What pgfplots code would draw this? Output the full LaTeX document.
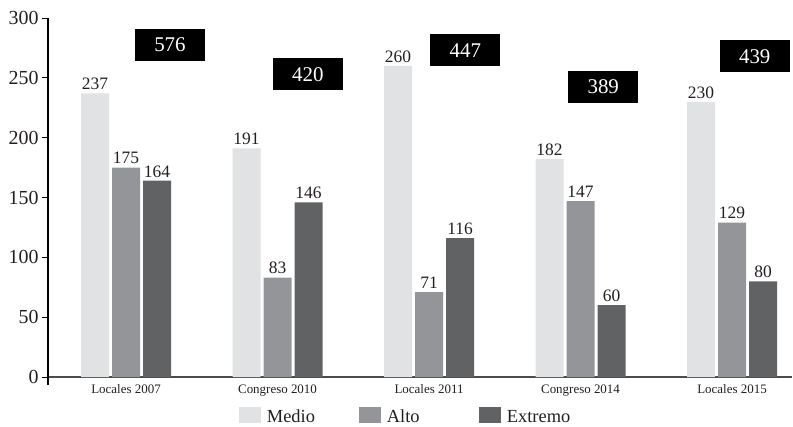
\documentclass[border=0pt]{standalone}
\usepackage{fontspec}
\setmainfont{Liberation Serif}
\usepackage{pgfplots}
\pgfplotsset{compat=1.18}
\definecolor{cmedio}{HTML}{E1E2E4}
\definecolor{calto}{HTML}{939598}
\definecolor{cextremo}{HTML}{616264}
\definecolor{ink}{HTML}{231F20}
\begin{document}
\begin{tikzpicture}
\useasboundingbox (-48bp,-50bp) rectangle (745bp,377bp);
\begin{axis}[
  scale only axis,
  width=744bp, height=359bp,
  xmin=-0.515, xmax=4.396,
  ymin=0, ymax=300,
  clip=false,
  axis x line*=bottom,
  axis y line*=left,
  x axis line style={draw=black!70, line width=1.6bp},
  y axis line style={draw=black, line width=1.3bp, shorten <=-8bp},
  xtick={0,1,2,3,4},
  xticklabels={Locales 2007, Congreso 2010, Locales 2011, Congreso 2014, Locales 2015},
  xticklabel style={font=\fontsize{13}{15}\selectfont, text=ink, yshift=2bp},
  major x tick style={draw=none},
  ytick={0,50,...,300},
  yticklabel style={font=\fontsize{20}{22}\selectfont, text=ink},
  /pgf/number format/assume math mode=true,
  tick align=outside,
  major tick length=6bp,
  major y tick style={line width=1bp, black},
  nodes near coords style={font=\fontsize{17.5}{19}\selectfont, text=ink},
  legend columns=3,
  legend style={draw=none, fill=none, inner sep=1pt, at={(0.255,-0.11)}, anchor=west,
    font=\fontsize{18.5}{20}\selectfont, text=ink,
    /tikz/every odd column/.append style={column sep=0bp},
    /tikz/every even column/.append style={column sep=0bp}},
  legend image code/.code={\fill[#1,draw=none] (0bp,-6bp) rectangle (22bp,10bp);},
]
\addplot[ybar, bar width=28bp, bar shift=-31bp, fill=cmedio, draw=none, nodes near coords,
  nodes near coords style={xshift=-31bp}]
  coordinates {(0,237) (1,191) (2,260) (3,182) (4,230)};
\addlegendentry{\makebox[94bp][l]{\hspace{4bp}Medio}}
\addplot[ybar, bar width=28bp, bar shift=0bp, fill=calto, draw=none, nodes near coords]
  coordinates {(0,175) (1,83) (2,71) (3,147) (4,129)};
\addlegendentry{\makebox[94bp][l]{\hspace{4bp}Alto}}
\addplot[ybar, bar width=28bp, bar shift=31bp, fill=cextremo, draw=none, nodes near coords,
  nodes near coords style={xshift=31bp}]
  coordinates {(0,164) (1,146) (2,116) (3,60) (4,80)};
\addlegendentry{\makebox[94bp][l]{\hspace{4bp}Extremo}}
\addplot[draw=none, mark=none, forget plot, nodes near coords, point meta=explicit symbolic,
  nodes near coords style={fill=black, text=white, anchor=center, minimum width=70bp,
    minimum height=32bp, inner sep=0pt, font=\fontsize{21}{23}\selectfont}]
  table[meta=t] {
x y t
0.29 277.5 576
1.20 253 420
2.24 273 447
3.15 242.5 389
4.15 268 439
};
\end{axis}
\end{tikzpicture}
\end{document}
